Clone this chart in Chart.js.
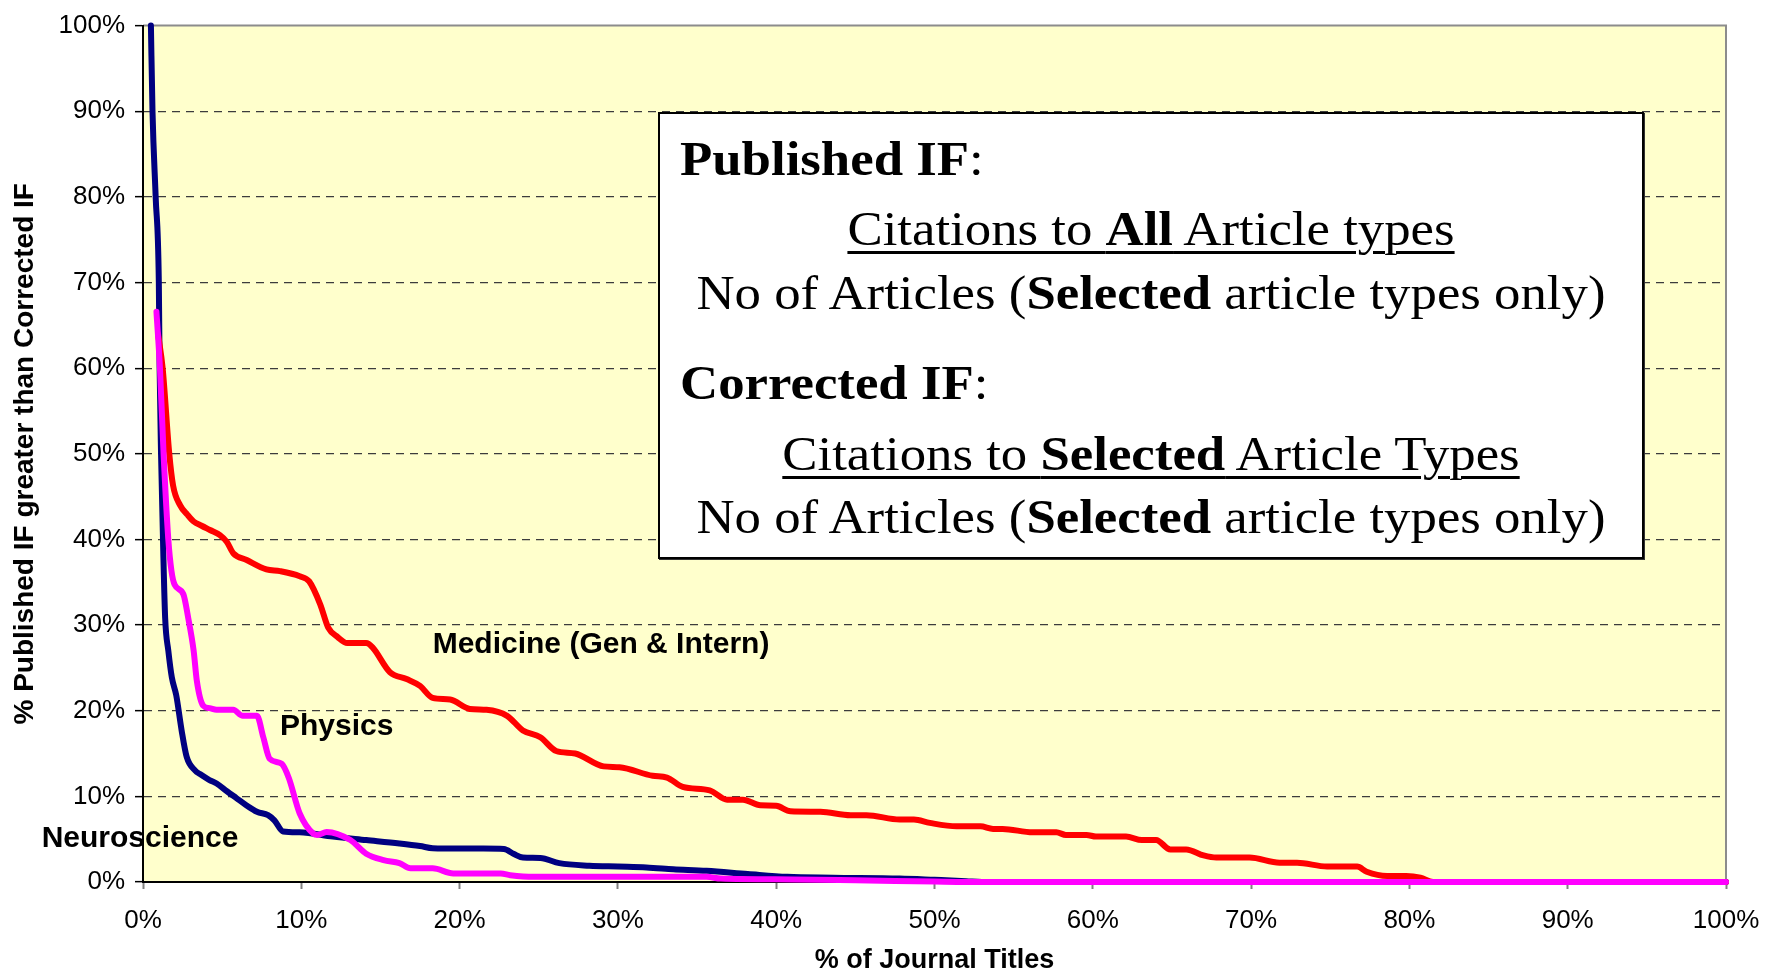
<!DOCTYPE html>
<html><head><meta charset="utf-8">
<script src="https://cdn.jsdelivr.net/npm/chart.js@4"></script>
<style>
html,body{margin:0;padding:0;background:#fff;overflow:hidden;}
#wrap{position:relative;width:1778px;height:974px;}
#c{position:absolute;left:0;top:0;}
#box{position:absolute;left:658px;top:112px;width:982px;height:443px;border:2px solid #000;box-shadow:1px 1px 0 #333;background:#fff;font-family:'Liberation Serif','Times New Roman',serif;color:#000;}
.ln{position:absolute;height:60px;line-height:60px;font-size:48px;white-space:nowrap;}
.c{left:0;width:100%;text-align:center;transform:scaleX(1.1);transform-origin:50% 50%;}
.l{left:20px;transform:scaleX(1.1);transform-origin:0 50%;}
.u{text-decoration:underline;text-decoration-thickness:3px;text-underline-offset:6px;}
</style>
</head><body>
<div id="wrap">
<canvas id="c" width="1778" height="974"></canvas>
<div id="box">
  <div class="ln l" style="top:15px"><b>Published IF</b>:</div>
  <div class="ln c" style="top:85px"><span class="u">Citations to <b>All</b> Article types</span></div>
  <div class="ln c" style="top:149px">No of Articles (<b>Selected</b> article types only)</div>
  <div class="ln l" style="top:239px"><b>Corrected IF</b>:</div>
  <div class="ln c" style="top:310px"><span class="u">Citations to <b>Selected</b> Article Types</span></div>
  <div class="ln c" style="top:373px">No of Articles (<b>Selected</b> article types only)</div>
</div>
</div>
<script>
// ---- data (percent of journal titles vs percent published IF > corrected IF) ----
const xTickValues = [0,10,20,30,40,50,60,70,80,90,100];
const yTickValues = [0,10,20,30,40,50,60,70,80,90,100];

const physicsX = [0.85,1.07,1.3,1.6,1.8,2.0,2.55,2.86,3.2,3.4,3.8,4.2,4.65,5.7,6.3,7.2,7.6,8.0,8.76,9.2,9.9,10.76,11.05,11.6,13.1,14.1,15.2,16.2,16.9,18.3,19.6,22.6,23.2,24.7,30,35.6,36.5,41,45,50,52,100];
const physicsY = [66.6,60,50,40,36.3,34.7,33.6,30.8,27,23.5,20.6,20.3,20.1,20.1,19.4,19.4,16.9,14.4,13.8,12.2,8.0,5.65,5.5,5.85,4.9,3.3,2.55,2.2,1.6,1.6,1.0,1.0,0.8,0.6,0.6,0.6,0.4,0.3,0.2,0.05,0,0];

const medicineX = [0.95,1.24,1.66,1.9,2.34,2.8,3.2,3.7,4.23,4.86,5.3,5.7,6.55,7.8,8.65,9.9,10.5,11.2,11.7,12.3,12.9,14.1,14.5,15.6,16.65,17.5,18.3,19.4,20.65,21.7,23.0,24.0,25.1,26.1,27.3,29.1,30.1,32.2,33.1,34.1,35.8,36.9,37.9,39,40,40.9,42.8,44.7,45.7,47.8,48.7,49.7,51.4,52.9,53.7,54.3,56.2,57.7,58.3,59.6,60.2,62.1,63.1,64,64.9,65.9,67,67.8,69.9,71.8,72.9,74.8,76.7,77.3,78.6,79.8,80.7,81.5,100];
const medicineY = [64,60,50,46.3,44,42.9,42.1,41.6,41.1,40.5,39.7,38.4,37.6,36.5,36.3,35.7,35.1,32.4,29.7,28.6,27.9,27.9,27.4,24.5,23.7,22.9,21.5,21.3,20.2,20.1,19.4,17.7,16.9,15.3,15.0,13.5,13.4,12.4,12.2,11.1,10.7,9.6,9.6,8.95,8.9,8.26,8.2,7.8,7.8,7.3,7.3,6.9,6.5,6.5,6.2,6.2,5.8,5.8,5.5,5.5,5.3,5.3,4.9,4.9,3.8,3.8,3.1,2.85,2.85,2.25,2.25,1.8,1.8,1.2,0.7,0.7,0.5,0,0];

const neuroX = [0.5,0.6,0.8,1.0,1.05,1.14,1.28,1.4,1.6,1.82,2.1,2.44,2.76,3.3,3.6,4.2,4.65,5.3,5.9,6.5,7.2,7.9,8.3,8.85,9.9,12.0,14.1,16.2,17.5,18.3,20,21.5,22.8,23.4,24,25.1,26.3,28.2,30,31.8,33.5,35.6,38.2,40.7,43.6,47.8,50,52,53,100];
const neuroY = [100,90,80,70,60,50,38.6,30.8,27,23.9,21.8,17.7,14.6,13,12.6,11.9,11.5,10.6,9.8,9.0,8.2,7.8,7.2,5.9,5.8,5.3,4.9,4.5,4.2,3.95,3.9,3.9,3.85,3.3,2.85,2.8,2.2,1.9,1.8,1.7,1.5,1.3,0.93,0.6,0.5,0.4,0.25,0.1,0,0];

const seriesNames = ['Physics','Medicine (Gen & Intern)','Neuroscience'];
const seriesColors = ['#FF00FF','#FF0000','#000080'];

const labelTexts = ['Medicine (Gen & Intern)','Physics','Neuroscience'];
const labelX = [18.3, 8.65, -6.4];
const labelY = [27.7, 18.1, 5.1];

const SANS = "'Liberation Sans', Arial, sans-serif";
const pts = (xs, ys) => xs.map((x, i) => ({x, y: ys[i]}));

const bgPlugin = {
  id: 'bg',
  beforeDraw(chart) {
    const {ctx, chartArea: a} = chart;
    ctx.save();
    ctx.fillStyle = '#FFFFCC';
    ctx.fillRect(a.left, a.top, a.right - a.left, a.bottom - a.top);
    ctx.strokeStyle = '#8c8c8c';
    ctx.lineWidth = 2;
    ctx.beginPath();
    ctx.moveTo(a.left, a.top);
    ctx.lineTo(a.right, a.top);
    ctx.lineTo(a.right, a.bottom);
    ctx.stroke();
    ctx.restore();
  }
};

const labelPlugin = {
  id: 'labels',
  afterDatasetsDraw(chart) {
    const {ctx, scales: {x, y}} = chart;
    ctx.save();
    ctx.font = "bold 30px " + SANS;
    ctx.fillStyle = '#000';
    ctx.textAlign = 'left';
    ctx.textBaseline = 'middle';
    labelTexts.forEach((t, i) => {
      ctx.fillText(t, x.getPixelForValue(labelX[i]), y.getPixelForValue(labelY[i]));
    });
    ctx.restore();
  }
};

const ds = (name, xs, ys, color) => ({
  label: name,
  data: pts(xs, ys),
  borderColor: color,
  backgroundColor: color,
  borderWidth: 6,
  pointRadius: 0,
  pointHoverRadius: 0,
  fill: false,
  clip: false,
  cubicInterpolationMode: 'monotone',
  borderCapStyle: 'round',
  borderJoinStyle: 'round'
});

new Chart(document.getElementById('c'), {
  type: 'line',
  data: {
    datasets: [
      ds(seriesNames[0], physicsX, physicsY, seriesColors[0]),
      ds(seriesNames[1], medicineX, medicineY, seriesColors[1]),
      ds(seriesNames[2], neuroX, neuroY, seriesColors[2])
    ]
  },
  plugins: [bgPlugin, labelPlugin],
  options: {
    responsive: false,
    animation: false,
    events: [],
    layout: {padding: {left: 0, right: 52, top: 22, bottom: 0}},
    plugins: {legend: {display: false}, tooltip: {enabled: false}},
    scales: {
      x: {
        type: 'linear', min: 0, max: 100,
        afterFit(s) { s.height = 92; },
        afterBuildTicks(s) { s.ticks = xTickValues.map(v => ({value: v})); },
        ticks: {callback: v => v + '%', font: {family: SANS, size: 26}, color: '#000', padding: 16, maxRotation: 0, autoSkip: false},
        grid: {drawOnChartArea: false, drawTicks: true, tickLength: 7, tickColor: '#808080', tickWidth: 2},
        border: {display: true, color: '#000', width: 2},
        title: {display: true, text: '% of Journal Titles', color: '#000',
          font: {family: SANS, size: 27, weight: 'bold', lineHeight: 1}, padding: {top: 0, bottom: 0}}
      },
      y: {
        type: 'linear', min: 0, max: 100,
        afterFit(s) { s.width = 143; },
        afterBuildTicks(s) { s.ticks = yTickValues.map(v => ({value: v})); },
        ticks: {callback: v => v + '%', font: {family: SANS, size: 26}, color: '#000', padding: 10},
        grid: {
          color: c => (c.tick && (c.tick.value === 100 || c.tick.value === 0)) ? 'rgba(0,0,0,0)' : '#3c3c3c',
          lineWidth: 1.3, drawTicks: true, tickLength: 8, tickColor: '#000', tickWidth: 1.5, tickBorderDash: []
        },
        border: {display: true, color: '#000', width: 2, dash: [8, 6]},
        title: {display: true, text: '% Published IF greater than Corrected IF', color: '#000',
          font: {family: SANS, size: 28, weight: 'bold', lineHeight: 1}, padding: {top: 11, bottom: 0}}
      }
    }
  }
});
</script>
</body></html>
